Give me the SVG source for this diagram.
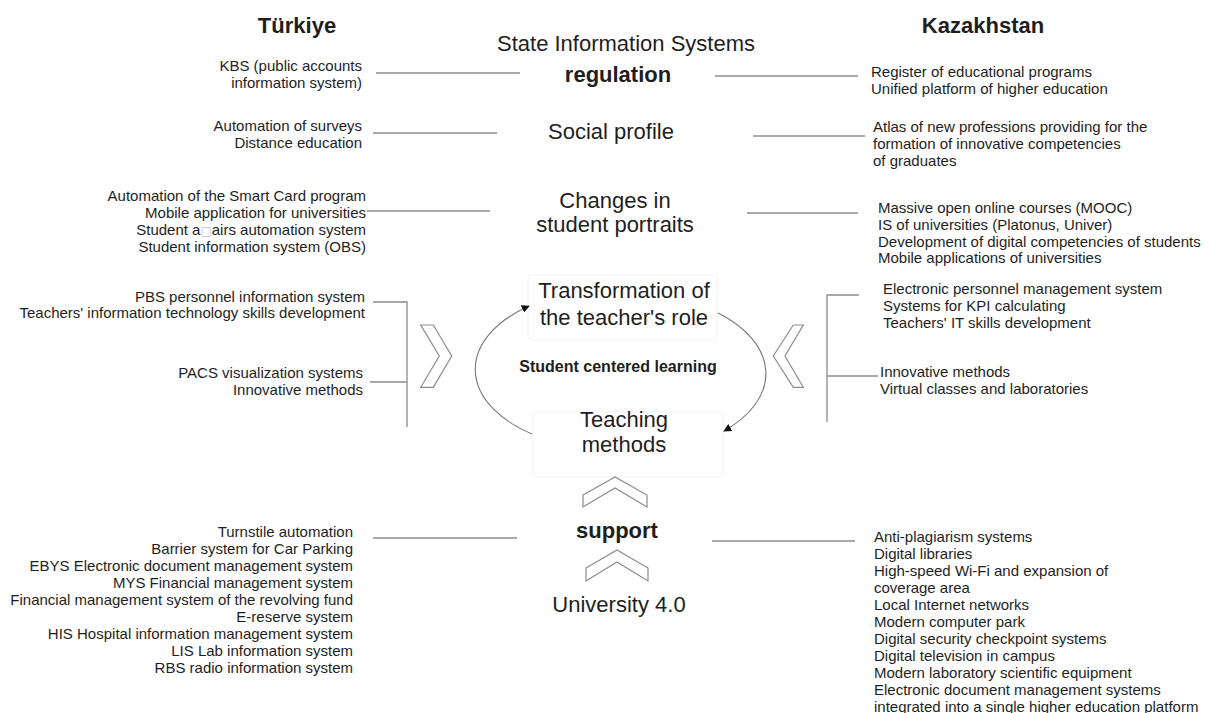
<svg xmlns="http://www.w3.org/2000/svg" width="1216" height="713" viewBox="0 0 1216 713">
<style>
text{font-family:"Liberation Sans",Arial,sans-serif;fill:#1e1e1e}
.s{font-size:15px}
.r{text-anchor:end}
.c{text-anchor:middle}
.big{font-size:22px}
.b{font-weight:bold}
.ln{stroke:#8c8c8c;stroke-width:1.3;fill:none}
.chev{fill:#fff;stroke:#8c8c8c;stroke-width:1.2}
.faint{fill:none;stroke:#f3f3f3;stroke-width:1.2}
.arc{fill:none;stroke:#777;stroke-width:1.1}
.box{font-family:"DejaVu Sans",sans-serif;fill:#c4c4c4;font-size:12px}
</style>
<defs>
<marker id="ah" viewBox="0 0 10 10" refX="9" refY="5" markerWidth="8" markerHeight="8" orient="auto" markerUnits="userSpaceOnUse">
<path d="M0,0 L10,5 L0,10 z" fill="#111"/>
</marker>
</defs>
<rect width="1216" height="713" fill="#fff"/>

<g id="headers">
<text class="big b c" x="297" y="33">Türkiye</text>
<text class="big b c" x="983" y="33">Kazakhstan</text>
</g>

<g id="center-title"><text class="big c" x="626" y="51">State Information Systems</text></g>
<g id="regulation"><text class="big b c" x="618" y="82">regulation</text></g>
<g id="social-profile"><text class="big c" x="611" y="139">Social profile</text></g>
<g id="student-portraits">
<text class="big c" x="615" y="208">Changes in</text>
<text class="big c" x="615" y="232">student portraits</text>
</g>
<g id="teacher-role">
<rect class="faint" x="528" y="275" width="189" height="65" rx="4"/>
<text class="big c" x="624" y="298">Transformation of</text>
<text class="big c" x="624" y="325">the teacher's role</text>
</g>
<g id="scl"><text class="b c" style="font-size:16px" x="618" y="372">Student centered learning</text></g>
<g id="teaching-methods">
<rect class="faint" x="533" y="412" width="190" height="65" rx="4"/>
<text class="big c" x="624" y="427">Teaching</text>
<text class="big c" x="624" y="452">methods</text>
</g>
<g id="support"><text class="big b c" x="617" y="538">support</text></g>
<g id="university"><text class="big c" x="619" y="612">University 4.0</text></g>

<g id="tr-regulation">
<text class="s r" x="362" y="71">KBS (public accounts</text>
<text class="s r" x="362" y="88">information system)</text>
</g>
<g id="tr-social">
<text class="s r" x="362" y="131">Automation of surveys</text>
<text class="s r" x="362" y="148">Distance education</text>
</g>
<g id="tr-portraits">
<text class="s r" x="366" y="201">Automation of the Smart Card program</text>
<text class="s r" x="366" y="218">Mobile application for universities</text>
<text class="s r" x="366" y="235">Student a<tspan class="box">□</tspan>airs automation system</text>
<text class="s r" x="366" y="252">Student information system (OBS)</text>
</g>
<g id="tr-teacher">
<text class="s r" x="365" y="302">PBS personnel information system</text>
<text class="s r" x="365" y="318">Teachers' information technology skills development</text>
</g>
<g id="tr-methods">
<text class="s r" x="363" y="378">PACS visualization systems</text>
<text class="s r" x="363" y="395">Innovative methods</text>
</g>
<g id="tr-support">
<text class="s r" x="353" y="537">Turnstile automation</text>
<text class="s r" x="353" y="554">Barrier system for Car Parking</text>
<text class="s r" x="353" y="571">EBYS Electronic document management system</text>
<text class="s r" x="353" y="588">MYS Financial management system</text>
<text class="s r" x="353" y="605">Financial management system of the revolving fund</text>
<text class="s r" x="353" y="622">E-reserve system</text>
<text class="s r" x="353" y="639">HIS Hospital information management system</text>
<text class="s r" x="353" y="656">LIS Lab information system</text>
<text class="s r" x="353" y="673">RBS radio information system</text>
</g>

<g id="kz-regulation">
<text class="s" x="871" y="77">Register of educational programs</text>
<text class="s" x="871" y="94">Unified platform of higher education</text>
</g>
<g id="kz-social">
<text class="s" x="873" y="132">Atlas of new professions providing for the</text>
<text class="s" x="873" y="149">formation of innovative competencies</text>
<text class="s" x="873" y="166">of graduates</text>
</g>
<g id="kz-portraits">
<text class="s" x="878" y="213">Massive open online courses (MOOC)</text>
<text class="s" x="878" y="230">IS of universities (Platonus, Univer)</text>
<text class="s" x="878" y="247">Development of digital competencies of students</text>
<text class="s" x="878" y="263">Mobile applications of universities</text>
</g>
<g id="kz-teacher">
<text class="s" x="883" y="294">Electronic personnel management system</text>
<text class="s" x="883" y="311">Systems for KPI calculating</text>
<text class="s" x="883" y="328">Teachers' IT skills development</text>
</g>
<g id="kz-methods">
<text class="s" x="880" y="377">Innovative methods</text>
<text class="s" x="880" y="394">Virtual classes and laboratories</text>
</g>
<g id="kz-support">
<text class="s" x="874" y="542">Anti-plagiarism systems</text>
<text class="s" x="874" y="559">Digital libraries</text>
<text class="s" x="874" y="576">High-speed Wi-Fi and expansion of</text>
<text class="s" x="874" y="593">coverage area</text>
<text class="s" x="874" y="610">Local Internet networks</text>
<text class="s" x="874" y="627">Modern computer park</text>
<text class="s" x="874" y="644">Digital security checkpoint systems</text>
<text class="s" x="874" y="661">Digital television in campus</text>
<text class="s" x="874" y="678">Modern laboratory scientific equipment</text>
<text class="s" x="874" y="695">Electronic document management systems</text>
<text class="s" x="874" y="712">integrated into a single higher education platform</text>
</g>

<g id="chevrons">
<polygon class="chev" points="420.7,325 433.3,325 451.7,356 433.3,387.3 420.7,387.3 439.3,356"/>
<polygon class="chev" points="803.3,325 793.3,325 773.3,356 793.3,387.3 803.3,387.3 785,356"/>
<polygon class="chev" points="583,495 615,477 647,495 647,507 615,488 583,507"/>
<polygon class="chev" points="586,568 617,550 648,568 648,581 617,562 586,581"/>
</g>

<g id="connectors">
<line class="ln" x1="376" y1="73" x2="520" y2="73"/>
<line class="ln" x1="373" y1="133" x2="497" y2="133"/>
<line class="ln" x1="367" y1="211" x2="490" y2="211"/>
<line class="ln" x1="715" y1="76" x2="858" y2="76"/>
<line class="ln" x1="753" y1="136" x2="865" y2="136"/>
<line class="ln" x1="747" y1="213" x2="858" y2="213"/>
<path class="ln" d="M373,302 H407 V427 M370,382 H407"/>
<path class="ln" d="M859,295 H827 V422 M827,376 H878"/>
<line class="ln" x1="373" y1="538" x2="517" y2="538"/>
<line class="ln" x1="712" y1="541" x2="855" y2="541"/>
<path class="arc" d="M532,434 A138,80 0 0 1 529,306" marker-end="url(#ah)"/>
<path class="arc" d="M718,313 A138,80 0 0 1 724,431" marker-end="url(#ah)"/>
</g>
</svg>
